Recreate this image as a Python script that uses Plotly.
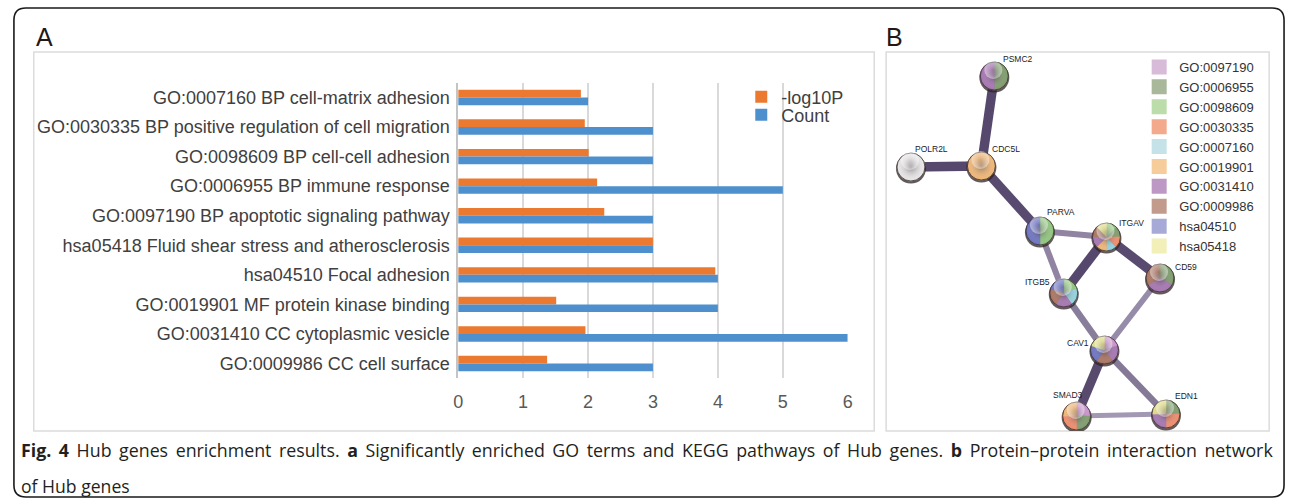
import math
import plotly.graph_objects as go

W, H = 1295, 501  # figure size in px

# ---------------- Panel A: enrichment bar chart ----------------
categories = [
    "GO:0007160 BP cell-matrix adhesion",
    "GO:0030335 BP positive regulation of cell migration",
    "GO:0098609 BP cell-cell adhesion",
    "GO:0006955 BP immune response",
    "GO:0097190 BP apoptotic signaling pathway",
    "hsa05418 Fluid shear stress and atherosclerosis",
    "hsa04510 Focal adhesion",
    "GO:0019901 MF protein kinase binding",
    "GO:0031410 CC cytoplasmic vesicle",
    "GO:0009986 CC cell surface",
]
neg_log10_p = [1.89, 1.95, 2.01, 2.14, 2.25, 3.00, 3.96, 1.51, 1.96, 1.37]
gene_count = [2, 3, 3, 5, 3, 3, 4, 4, 6, 3]
x_ticks = [0, 1, 2, 3, 4, 5, 6]

# ---------------- Panel B: PPI network ----------------
genes = ["PSMC2", "POLR2L", "CDC5L", "PARVA", "ITGAV", "CD59", "ITGB5", "CAV1", "SMAD3", "EDN1"]
node_x = [109, 25, 96, 155, 222, 276, 179, 220, 192, 282]
node_y = [24, 115, 114, 179, 185, 226, 241, 298, 364, 362]

edge_from = ["PSMC2", "POLR2L", "CDC5L", "ITGAV", "ITGAV", "CAV1", "PARVA", "PARVA", "CD59", "ITGB5", "CAV1", "SMAD3"]
edge_to = ["CDC5L", "CDC5L", "PARVA", "ITGB5", "CD59", "SMAD3", "ITGAV", "ITGB5", "CAV1", "CAV1", "EDN1", "EDN1"]
edge_score = [0.99, 0.99, 0.97, 0.99, 0.97, 0.98, 0.66, 0.66, 0.62, 0.70, 0.72, 0.55]

terms = ["GO:0097190", "GO:0006955", "GO:0098609", "GO:0030335", "GO:0007160",
         "GO:0019901", "GO:0031410", "GO:0009986", "hsa04510", "hsa05418"]
term_swatch = ["#d8bbd9", "#a9b79a", "#bcdcaa", "#f3a98c", "#c5e2e8",
               "#f6cd9a", "#be98c4", "#c29b8c", "#a7a9d6", "#f2efb9"]
term_node = ["#c892cc", "#7d9b6a", "#8fc47c", "#ee8a68", "#92d0dc",
             "#efb573", "#a473b0", "#a9725f", "#6a71c0", "#e0dc86"]

# term membership of each gene, listed clockwise from 12 o'clock
gene_terms = {
    "PSMC2": ["GO:0006955", "GO:0031410"],
    "POLR2L": [],
    "CDC5L": ["GO:0019901"],
    "PARVA": ["GO:0098609", "hsa04510"],
    "ITGAV": ["GO:0098609", "GO:0006955", "GO:0030335", "GO:0007160",
              "GO:0019901", "GO:0031410", "GO:0009986", "hsa05418"],
    "CD59": ["GO:0006955", "GO:0031410", "GO:0009986"],
    "ITGB5": ["GO:0098609", "GO:0007160", "GO:0031410", "GO:0009986", "hsa04510"],
    "CAV1": ["GO:0097190", "GO:0031410", "GO:0009986", "hsa04510", "hsa05418"],
    "SMAD3": ["GO:0097190", "GO:0006955", "GO:0030335", "GO:0019901"],
    "EDN1": ["GO:0006955", "GO:0030335", "GO:0031410", "hsa05418"],
}

# label placement around each node (px offsets)
label_shift = {
    "PSMC2": (24, 17), "POLR2L": (21, 18), "CDC5L": (25, 17), "PARVA": (21, 19),
    "ITGAV": (25, 14), "CD59": (26, 11), "ITGB5": (-26, 11), "CAV1": (-26, 7),
    "SMAD3": (-9, 21), "EDN1": (21, 18),
}

NODE_R = 14
FONT = "Liberation Sans, Arial, sans-serif"
CAPTION_FONT = "Open Sans"


def px_x(v):
    return v / W


def px_y(v):
    return 1 - v / H


def wedge(cx, cy, r, a0, a1, n=30):
    xs, ys = [cx], [cy]
    for k in range(n + 1):
        t = math.radians(a0 + (a1 - a0) * k / n)
        xs.append(cx + r * math.sin(t))
        ys.append(cy - r * math.cos(t))
    xs.append(cx)
    ys.append(cy)
    return xs, ys


def mix(c1, c2, t):
    a = [int(c1[i:i + 2], 16) for i in (1, 3, 5)]
    b = [int(c2[i:i + 2], 16) for i in (1, 3, 5)]
    return "#" + "".join(f"{round(a[i] + (b[i] - a[i]) * t):02x}" for i in range(3))


fig = go.Figure()

# bars
fig.add_trace(go.Bar(
    y=categories, x=neg_log10_p, orientation="h", name="-log10P",
    marker=dict(color="#eb7a30", line=dict(width=0)), legend="legend",
    xaxis="x", yaxis="y", hoverinfo="x+y",
))
fig.add_trace(go.Bar(
    y=categories, x=gene_count, orientation="h", name="Count",
    marker=dict(color="#4e8fcd", line=dict(width=0)), legend="legend3",
    xaxis="x", yaxis="y", hoverinfo="x+y",
))

# network edges
pos = {g: (x, y) for g, x, y in zip(genes, node_x, node_y)}
for a, b, s in zip(edge_from, edge_to, edge_score):
    t = (s - 0.4) / 0.6
    fig.add_trace(go.Scatter(
        x=[pos[a][0], pos[b][0]], y=[pos[a][1], pos[b][1]], mode="lines",
        line=dict(color=mix("#bdb3cc", "#54466a", t), width=3.5 + 6.0 * t),
        xaxis="x2", yaxis="y2", showlegend=False, hoverinfo="skip",
    ))

# node drop shadow
fig.add_trace(go.Scatter(
    x=node_x, y=[v + 1.6 for v in node_y], mode="markers",
    marker=dict(size=2 * NODE_R + 2, color="rgba(45,35,35,0.75)", line=dict(width=0)),
    xaxis="x2", yaxis="y2", showlegend=False, hoverinfo="skip",
))

# node pie slices, one trace per term
for term, col in zip(terms, term_node):
    xs, ys = [], []
    for g in genes:
        tl = gene_terms[g]
        if term not in tl:
            continue
        k = tl.index(term)
        step = 360 / len(tl)
        wx, wy = wedge(*pos[g], NODE_R, k * step, (k + 1) * step)
        xs += wx + [None]
        ys += wy + [None]
    if xs:
        fig.add_trace(go.Scatter(
            x=xs, y=ys, mode="lines", fill="toself", fillcolor=col,
            line=dict(color=col, width=0.6), xaxis="x2", yaxis="y2",
            showlegend=False, hoverinfo="skip",
        ))

# unannotated nodes
xs, ys = [], []
for g in genes:
    if not gene_terms[g]:
        wx, wy = wedge(*pos[g], NODE_R, 0, 360)
        xs += wx + [None]
        ys += wy + [None]
fig.add_trace(go.Scatter(
    x=xs, y=ys, mode="lines", fill="toself", fillcolor="#e6e4e4",
    line=dict(color="#e6e4e4", width=0.6), xaxis="x2", yaxis="y2",
    showlegend=False, hoverinfo="skip",
))

# sphere shading and rim
fig.add_trace(go.Scatter(
    x=node_x, y=node_y, mode="markers",
    marker=dict(size=2 * NODE_R, color="rgba(255,255,255,0)",
                gradient=dict(type="radial", color="rgba(40,30,40,0.45)"),
                line=dict(color="rgba(60,50,50,0.8)", width=1)),
    xaxis="x2", yaxis="y2", showlegend=False, hoverinfo="skip",
))
# soft specular highlight
fig.add_trace(go.Scatter(
    x=[v - 1 for v in node_x], y=[v - 6 for v in node_y], mode="markers",
    marker=dict(size=18, color="rgba(255,255,255,0.45)",
                gradient=dict(type="radial", color="rgba(255,255,255,0)"),
                line=dict(width=0)),
    xaxis="x2", yaxis="y2", showlegend=False, hoverinfo="skip",
))

# network legend
for term, col in zip(terms, term_swatch):
    fig.add_trace(go.Scatter(
        x=[None], y=[None], mode="markers", name=term,
        marker=dict(symbol="square", size=15, color=col),
        xaxis="x2", yaxis="y2", legend="legend2",
    ))

annotations = []
for g in genes:
    dx, dy = label_shift[g]
    annotations.append(dict(
        x=pos[g][0], y=pos[g][1], xref="x2", yref="y2", text=g, showarrow=False,
        xshift=dx, yshift=dy, xanchor="center", yanchor="middle",
        font=dict(family=FONT, size=8.5, color="#1c1c1c"),
    ))

# caption; the first line is set justified (a thin space widens each word gap)
caption_1 = ("<b>Fig. 4</b> Hub genes enrichment results. <b>a</b> Significantly enriched GO terms "
             "and KEGG pathways of Hub genes. <b>b</b> Protein\u2013protein interaction network")
caption_1 = (caption_1.replace(" ", " \u2009")
             .replace("<b \u2009", "<b ").replace("</b \u2009", "</b "))
caption_2 = "of Hub genes"

annotations += [
    dict(x=px_x(29), y=px_y(37), xref="paper", yref="paper", text="A", showarrow=False,
         xanchor="left", yanchor="middle", font=dict(family=FONT, size=25, color="#231815")),
    dict(x=px_x(886), y=px_y(37), xref="paper", yref="paper", text="B", showarrow=False,
         xanchor="left", yanchor="middle", font=dict(family=FONT, size=25, color="#231815")),
    dict(x=px_x(14), y=px_y(450), xref="paper", yref="paper", showarrow=False,
         xanchor="left", yanchor="middle", align="left", text=caption_1,
         font=dict(family=CAPTION_FONT, size=17.8, color="#231f20")),
    dict(x=px_x(14), y=px_y(486), xref="paper", yref="paper", showarrow=False,
         xanchor="left", yanchor="middle", align="left", text=caption_2,
         font=dict(family=CAPTION_FONT, size=17.6, color="#231f20")),
]


def rect(x0, y0, x1, y1, color, width):
    return dict(type="rect", xref="paper", yref="paper", x0=px_x(x0), x1=px_x(x1),
                y0=px_y(y1), y1=px_y(y0), line=dict(color=color, width=width), layer="below")


def rounded(x0, y0, x1, y1, r):
    rx, ry = r / W, r / H
    X0, X1, Y0, Y1 = px_x(x0), px_x(x1), px_y(y0), px_y(y1)
    path = (f"M{X0 + rx},{Y0} L{X1 - rx},{Y0} Q{X1},{Y0} {X1},{Y0 - ry} "
            f"L{X1},{Y1 + ry} Q{X1},{Y1} {X1 - rx},{Y1} L{X0 + rx},{Y1} "
            f"Q{X0},{Y1} {X0},{Y1 + ry} L{X0},{Y0 - ry} Q{X0},{Y0} {X0 + rx},{Y0} Z")
    return dict(type="path", xref="paper", yref="paper", path=path,
                line=dict(color="#1a1a1a", width=1.6))


shapes = [
    rounded(9, 8, 1289, 497, 12),
    rect(29, 52, 876, 431, "#dcdcdc", 1.5),
    rect(888, 52, 1274, 431, "#dcdcdc", 1.5),
]

fig.update_layout(
    width=W, height=H, margin=dict(l=0, r=0, t=0, b=0),
    paper_bgcolor="white", plot_bgcolor="rgba(0,0,0,0)",
    barmode="group", bargap=0.48, bargroupgap=0,
    font=dict(family=FONT),
    xaxis=dict(domain=[px_x(456.7), px_x(849.3)], range=[0, 6], anchor="y",
               tickvals=x_ticks, showgrid=True, gridcolor="#d9d9d9", gridwidth=1.5,
               zeroline=False, showline=False, ticks="", ticklabelstandoff=11,
               tickfont=dict(family=FONT, size=18, color="#595959"), fixedrange=True),
    yaxis=dict(domain=[px_y(378.3), px_y(82.7)], anchor="x", type="category",
               categoryorder="array", categoryarray=categories, autorange="reversed",
               showline=True, linecolor="#c4c4c4", linewidth=1.5, showgrid=False,
               ticks="", ticklabelstandoff=3,
               tickfont=dict(family=FONT, size=18, color="#404040"), fixedrange=True),
    xaxis2=dict(domain=[px_x(888), px_x(1274)], range=[0, 386], anchor="y2", visible=False),
    yaxis2=dict(domain=[px_y(431), px_y(52)], range=[379, 0], anchor="x2", visible=False),
    legend=dict(x=px_x(742), y=px_y(78.5), xanchor="left", yanchor="top",
                bgcolor="rgba(0,0,0,0)", font=dict(family=FONT, size=18, color="#404040")),
    legend3=dict(x=px_x(742), y=px_y(96.5), xanchor="left", yanchor="top",
                 bgcolor="rgba(0,0,0,0)", font=dict(family=FONT, size=18, color="#404040")),
    legend2=dict(x=px_x(1143), y=px_y(52), xanchor="left", yanchor="top",
                 bgcolor="rgba(0,0,0,0)", font=dict(family=FONT, size=13, color="#333333")),
    annotations=annotations,
    shapes=shapes,
    showlegend=True,
)

fig.write_html("out.html")
